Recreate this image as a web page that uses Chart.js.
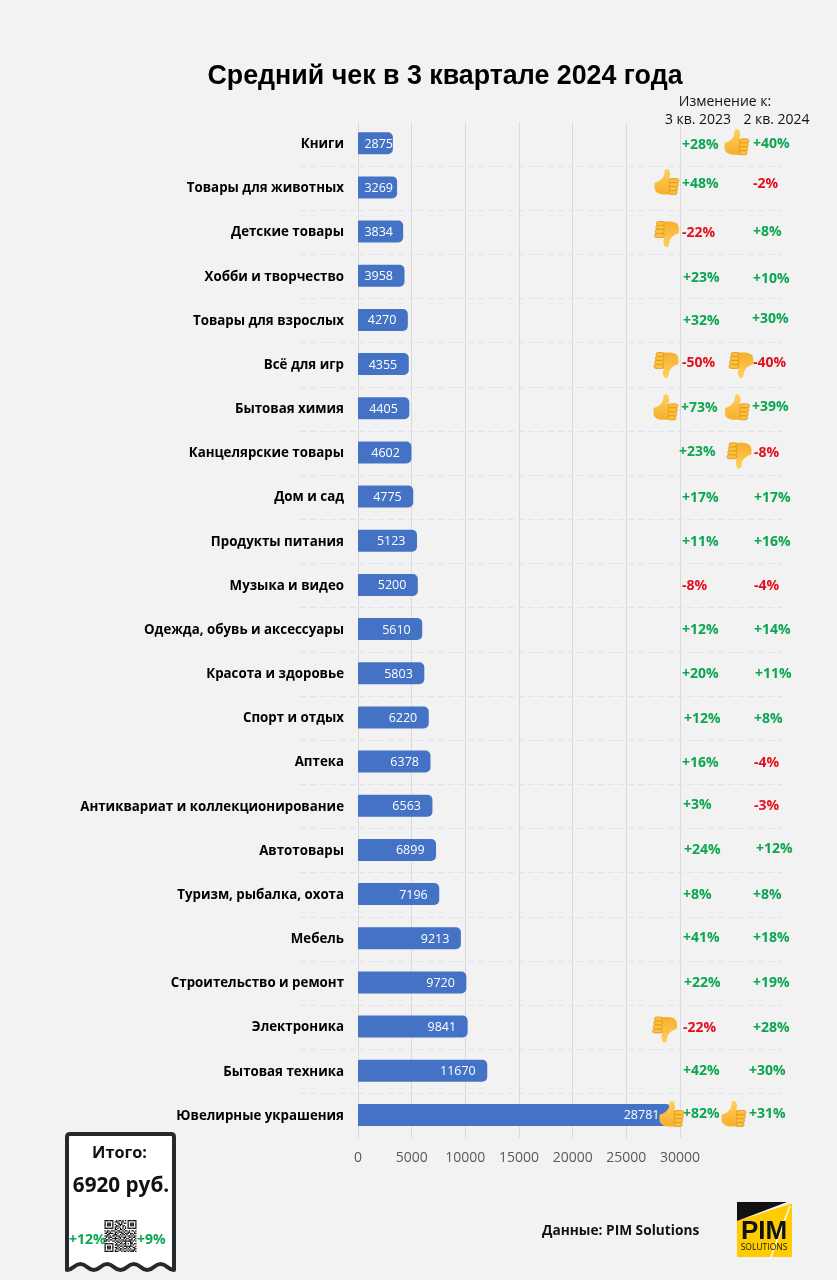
<!DOCTYPE html>
<html>
<head>
  <meta charset="UTF-8" />
  <title>Средний чек в 3 квартале 2024 года</title>
  <script src="https://cdn.jsdelivr.net/npm/chart.js"></script>
  <style>
    html, body { margin: 0; padding: 0; background: #f2f2f2; }
    canvas { display: block; }
  </style>
</head>
<body>
  <canvas id="chart" width="837" height="1280"></canvas>

  <script>
    const categories = [
      'Книги', 'Товары для животных', 'Детские товары', 'Хобби и творчество',
      'Товары для взрослых', 'Всё для игр', 'Бытовая химия', 'Канцелярские товары',
      'Дом и сад', 'Продукты питания', 'Музыка и видео', 'Одежда, обувь и аксессуары',
      'Красота и здоровье', 'Спорт и отдых', 'Аптека', 'Антиквариат и коллекционирование',
      'Автотовары', 'Туризм, рыбалка, охота', 'Мебель', 'Строительство и ремонт',
      'Электроника', 'Бытовая техника', 'Ювелирные украшения'
    ];
    const avgCheck = [
      2875, 3269, 3834, 3958, 4270, 4355, 4405, 4602, 4775, 5123, 5200, 5610,
      5803, 6220, 6378, 6563, 6899, 7196, 9213, 9720, 9841, 11670, 28781
    ];
    const changeYear = [
      28, 48, -22, 23, 32, -50, 73, 23, 17, 11, -8, 12,
      20, 12, 16, 3, 24, 8, 41, 22, -22, 42, 82
    ];
    const changeQuarter = [
      40, -2, 8, 10, 30, -40, 39, -8, 17, 16, -4, 14,
      11, 8, -4, -3, 12, 8, 18, 19, 28, 30, 31
    ];
    const xTickValues = [0, 5000, 10000, 15000, 20000, 25000, 30000];

    // hand placed labels in the original, small nudges per row
    const yearDx = [0,0,0,1,1,0,-1,-3,0,0,0,0,0,2,0,1,2,1,1,2,1,1,1];
    const yearDy = [1,-4,0,1,0,-2,-1,-1,0,0,0,0,0,1,0,-2,-1,0,-1,0,0,-1,-2];
    const quarterDx = [0,0,0,0,-1,0,-1,1,1,1,1,1,2,1,1,1,3,0,0,0,0,-4,-4];
    const quarterDy = [0,-4,-1,2,-2,-2,-2,0,0,0,0,0,0,1,0,-1,-2,0,-1,0,0,-1,-2];

    // row, x centre, offset from row centre, up or down
    const thumbs = [
      [0, 736.5, -3, true], [1, 666.5, -7.5, true], [2, 667, 2.5, false],
      [5, 666.5, 1, false], [5, 741.5, 1, false], [6, 665.5, -3, true], [6, 737, -3, true],
      [7, 739.5, 3, false], [20, 665, 3, false], [22, 671.5, -3, true], [22, 733.5, -3, true]
    ];

    const qr = [
      '1111111001011010101111111',
      '1000001011100110001000001',
      '1011101000110101101011101',
      '1011101010011100001011101',
      '1011101001101011001011101',
      '1000001011010010101000001',
      '1111111010101010101111111',
      '0000000011001101000000000',
      '1011011100110010110101101',
      '0110100011011101001100010',
      '1101111010100110111011011',
      '0011000111001011010010100',
      '1110101101110100101101011',
      '0101110010011011100110110',
      '1001001111101001011001001',
      '0110110010010110100111010',
      '1101001101101011111110101',
      '0000000010110100100011000',
      '1111111001001101101011011',
      '1000001011110010100010100',
      '1011101000101101111111001',
      '1011101011010010010100110',
      '1011101001101101101010011',
      '1000001010011010010101110',
      '1111111011100101101011101'
    ];

    const GREEN = '#0aa650';
    const RED = '#e2101e';
    const FONT = '"Open Sans", "Noto Sans", sans-serif';

    const fmtChange = v => (v > 0 ? '+' : '') + v + '%';

    function drawThumb(ctx, x, y, up) {
      ctx.save();
      ctx.translate(x, y);
      if (!up) ctx.rotate(Math.PI);
      ctx.translate(0, 1);
      ctx.scale(0.92, 0.84);

      // thumb and palm
      const g = ctx.createLinearGradient(0, -17, 0, 15);
      g.addColorStop(0, '#ffd35c');
      g.addColorStop(1, '#f6ae2d');
      ctx.fillStyle = g;
      ctx.beginPath();
      ctx.moveTo(-13, 1);
      ctx.quadraticCurveTo(-6, -1, -3, -7);
      ctx.quadraticCurveTo(-2, -11, -2, -14);
      ctx.quadraticCurveTo(0, -17, 3, -14);
      ctx.quadraticCurveTo(5, -9, 3, -4);
      ctx.lineTo(6, -4);
      ctx.lineTo(6, 15);
      ctx.lineTo(-4, 15);
      ctx.quadraticCurveTo(-13, 14, -13, 7);
      ctx.closePath();
      ctx.fill();

      // fingers
      ctx.fillStyle = '#fbc13c';
      ctx.strokeStyle = '#e0921a';
      ctx.lineWidth = 0.9;
      [-4, 0.8, 5.6, 10.2].forEach((fy, i) => {
        ctx.beginPath();
        ctx.roundRect(3, fy, 10.5 - i * 0.7, 4.8, 2.2);
        ctx.fill();
        ctx.stroke();
      });
      ctx.restore();
    }

    function drawReceipt(ctx) {
      const l = 67, r = 174, t = 1134, low = 1270, high = 1264;
      const hump = (r - l) / 4;
      ctx.save();
      ctx.beginPath();
      ctx.moveTo(l + 3, t);
      ctx.lineTo(r - 3, t);
      ctx.quadraticCurveTo(r, t, r, t + 3);
      ctx.lineTo(r, low);
      for (let i = 0; i < 4; i++) {
        const x0 = r - hump * i;
        ctx.bezierCurveTo(x0 - hump * 0.25, low, x0 - hump * 0.25, high, x0 - hump * 0.5, high);
        ctx.bezierCurveTo(x0 - hump * 0.75, high, x0 - hump * 0.75, low, x0 - hump, low);
      }
      ctx.lineTo(l, t + 3);
      ctx.quadraticCurveTo(l, t, l + 3, t);
      ctx.closePath();
      ctx.fillStyle = '#ffffff';
      ctx.fill();
      ctx.strokeStyle = '#24292e';
      ctx.lineWidth = 4;
      ctx.lineJoin = 'round';
      ctx.stroke();

      ctx.fillStyle = '#111111';
      ctx.textAlign = 'center';
      ctx.textBaseline = 'middle';
      ctx.font = 'bold 16.3px ' + FONT;
      ctx.fillText('Итого:', 119.5, 1153);
      ctx.font = 'bold 20.7px ' + FONT;
      ctx.fillText('6920 руб.', 121, 1186);

      ctx.fillStyle = GREEN;
      ctx.font = 'bold 14px ' + FONT;
      ctx.textAlign = 'left';
      ctx.fillText('+12%', 69, 1240);
      ctx.fillText('+9%', 137, 1240);

      ctx.fillStyle = '#000000';
      const cell = 32 / qr.length;
      qr.forEach((row, j) => {
        [...row].forEach((c, i) => {
          if (c === '1') ctx.fillRect(104.5 + i * cell, 1220 + j * cell, cell, cell);
        });
      });
      ctx.restore();
    }

    function drawLogo(ctx) {
      ctx.save();
      ctx.fillStyle = '#ffcc00';
      ctx.beginPath();
      ctx.moveTo(737, 1221); ctx.lineTo(790, 1204); ctx.lineTo(792, 1204);
      ctx.lineTo(792, 1257); ctx.lineTo(737, 1257);
      ctx.closePath();
      ctx.fill();
      ctx.fillStyle = '#111111';
      ctx.beginPath();
      ctx.moveTo(737, 1202); ctx.lineTo(787, 1202); ctx.lineTo(737, 1221);
      ctx.closePath();
      ctx.fill();
      ctx.strokeStyle = '#fff4c0';
      ctx.lineWidth = 2;
      ctx.beginPath();
      ctx.moveTo(790, 1206); ctx.lineTo(771, 1257);
      ctx.stroke();
      ctx.fillStyle = '#111111';
      ctx.textAlign = 'center';
      ctx.textBaseline = 'middle';
      ctx.font = 'bold 26px "Liberation Sans", sans-serif';
      ctx.fillText('PIM', 764, 1232);
      ctx.font = '8.5px ' + FONT;
      ctx.fillText('SOLUTIONS', 764, 1248);
      ctx.restore();
    }

    const extras = {
      id: 'extras',
      afterLayout(chart) {
        // title sits centred over a narrower span than the canvas
        if (chart.titleBlock) {
          chart.titleBlock.left = 108;
          chart.titleBlock.right = 782;
        }
      },
      // bars sit a pixel above their row labels
      beforeDatasetDraw(chart) {
        chart.ctx.save();
        chart.ctx.translate(0, -1);
      },
      afterDatasetDraw(chart) {
        chart.ctx.restore();
      },
      afterDatasetsDraw(chart) {
        const ctx = chart.ctx;
        const y = chart.scales.y;
        const bars = chart.getDatasetMeta(0).data;

        ctx.save();
        ctx.textBaseline = 'middle';

        // values inside the bars
        ctx.font = '12.5px ' + FONT;
        ctx.fillStyle = '#ffffff';
        ctx.textAlign = 'right';
        avgCheck.forEach((v, i) => {
          const right = Math.max(393, bars[i].x - 7.5);
          ctx.fillText(String(v), right, y.getPixelForValue(i));
        });

        // header of the change columns
        ctx.fillStyle = '#111111';
        ctx.font = '14px ' + FONT;
        ctx.textAlign = 'center';
        ctx.fillText('Изменение к:', 725, 102);
        ctx.fillText('3 кв. 2023', 698, 120);
        ctx.fillText('2 кв. 2024', 776.5, 120);

        // change columns
        ctx.font = 'bold 14px ' + FONT;
        ctx.textAlign = 'left';
        categories.forEach((c, i) => {
          const cy = y.getPixelForValue(i);
          ctx.fillStyle = changeYear[i] < 0 ? RED : GREEN;
          ctx.fillText(fmtChange(changeYear[i]), 682 + yearDx[i], cy + yearDy[i]);
          ctx.fillStyle = changeQuarter[i] < 0 ? RED : GREEN;
          ctx.fillText(fmtChange(changeQuarter[i]), 753 + quarterDx[i], cy + quarterDy[i]);
        });

        thumbs.forEach(([row, x, dy, up]) => {
          drawThumb(ctx, x, y.getPixelForValue(row) + dy, up);
        });

        drawReceipt(ctx);

        ctx.fillStyle = '#111111';
        ctx.font = 'bold 13.7px ' + FONT;
        ctx.textAlign = 'left';
        ctx.textBaseline = 'middle';
        ctx.fillText('Данные: PIM Solutions', 542, 1231);

        drawLogo(ctx);
        ctx.restore();
      }
    };

    // first and closing lines of the offset grid stay hidden
    const dashColor = c => (c.index > 0 && c.index < categories.length) ? '#dfe2f0' : 'transparent';

    new Chart(document.getElementById('chart'), {
      type: 'bar',
      plugins: [extras],
      data: {
        labels: categories,
        datasets: [{
          data: avgCheck,
          backgroundColor: '#4472c4',
          borderWidth: 0,
          borderRadius: 5,
          borderSkipped: false,
          barThickness: 14,
          inflateAmount: 4
        }]
      },
      options: {
        indexAxis: 'y',
        responsive: false,
        animation: false,
        layout: { padding: { left: 0, right: 55, top: 0, bottom: 0 } },
        plugins: {
          legend: { display: false },
          tooltip: { enabled: false },
          title: {
            display: true,
            text: 'Средний чек в 3 квартале 2024 года',
            color: '#000000',
            font: { family: '"Liberation Sans", Arial, sans-serif', size: 26.8, weight: 'bold', lineHeight: 1.2 },
            padding: { top: 61, bottom: 29 }
          }
        },
        scales: {
          x: {
            min: 0,
            max: 39500,
            afterBuildTicks: axis => { axis.ticks = xTickValues.map(value => ({ value })); },
            afterFit: axis => { axis.height = 142; },
            ticks: {
              maxRotation: 0,
              autoSkip: false,
              padding: 12,
              color: '#595959',
              font: { family: FONT, size: 14 },
              callback: v => String(v)
            },
            grid: { color: '#d9d9d9', drawTicks: false },
            border: { display: false }
          },
          y: {
            afterFit: axis => { axis.width = 358; },
            ticks: {
              autoSkip: false,
              padding: -44,
              color: '#000000',
              font: { family: FONT, size: 13.3, weight: 'bold' }
            },
            grid: {
              color: dashColor,
              tickColor: dashColor,
              tickLength: 58,
              tickBorderDash: [6, 4],
              tickWidth: 1
            },
            border: { display: false, dash: [6, 4] }
          }
        }
      }
    });
  </script>
</body>
</html>
